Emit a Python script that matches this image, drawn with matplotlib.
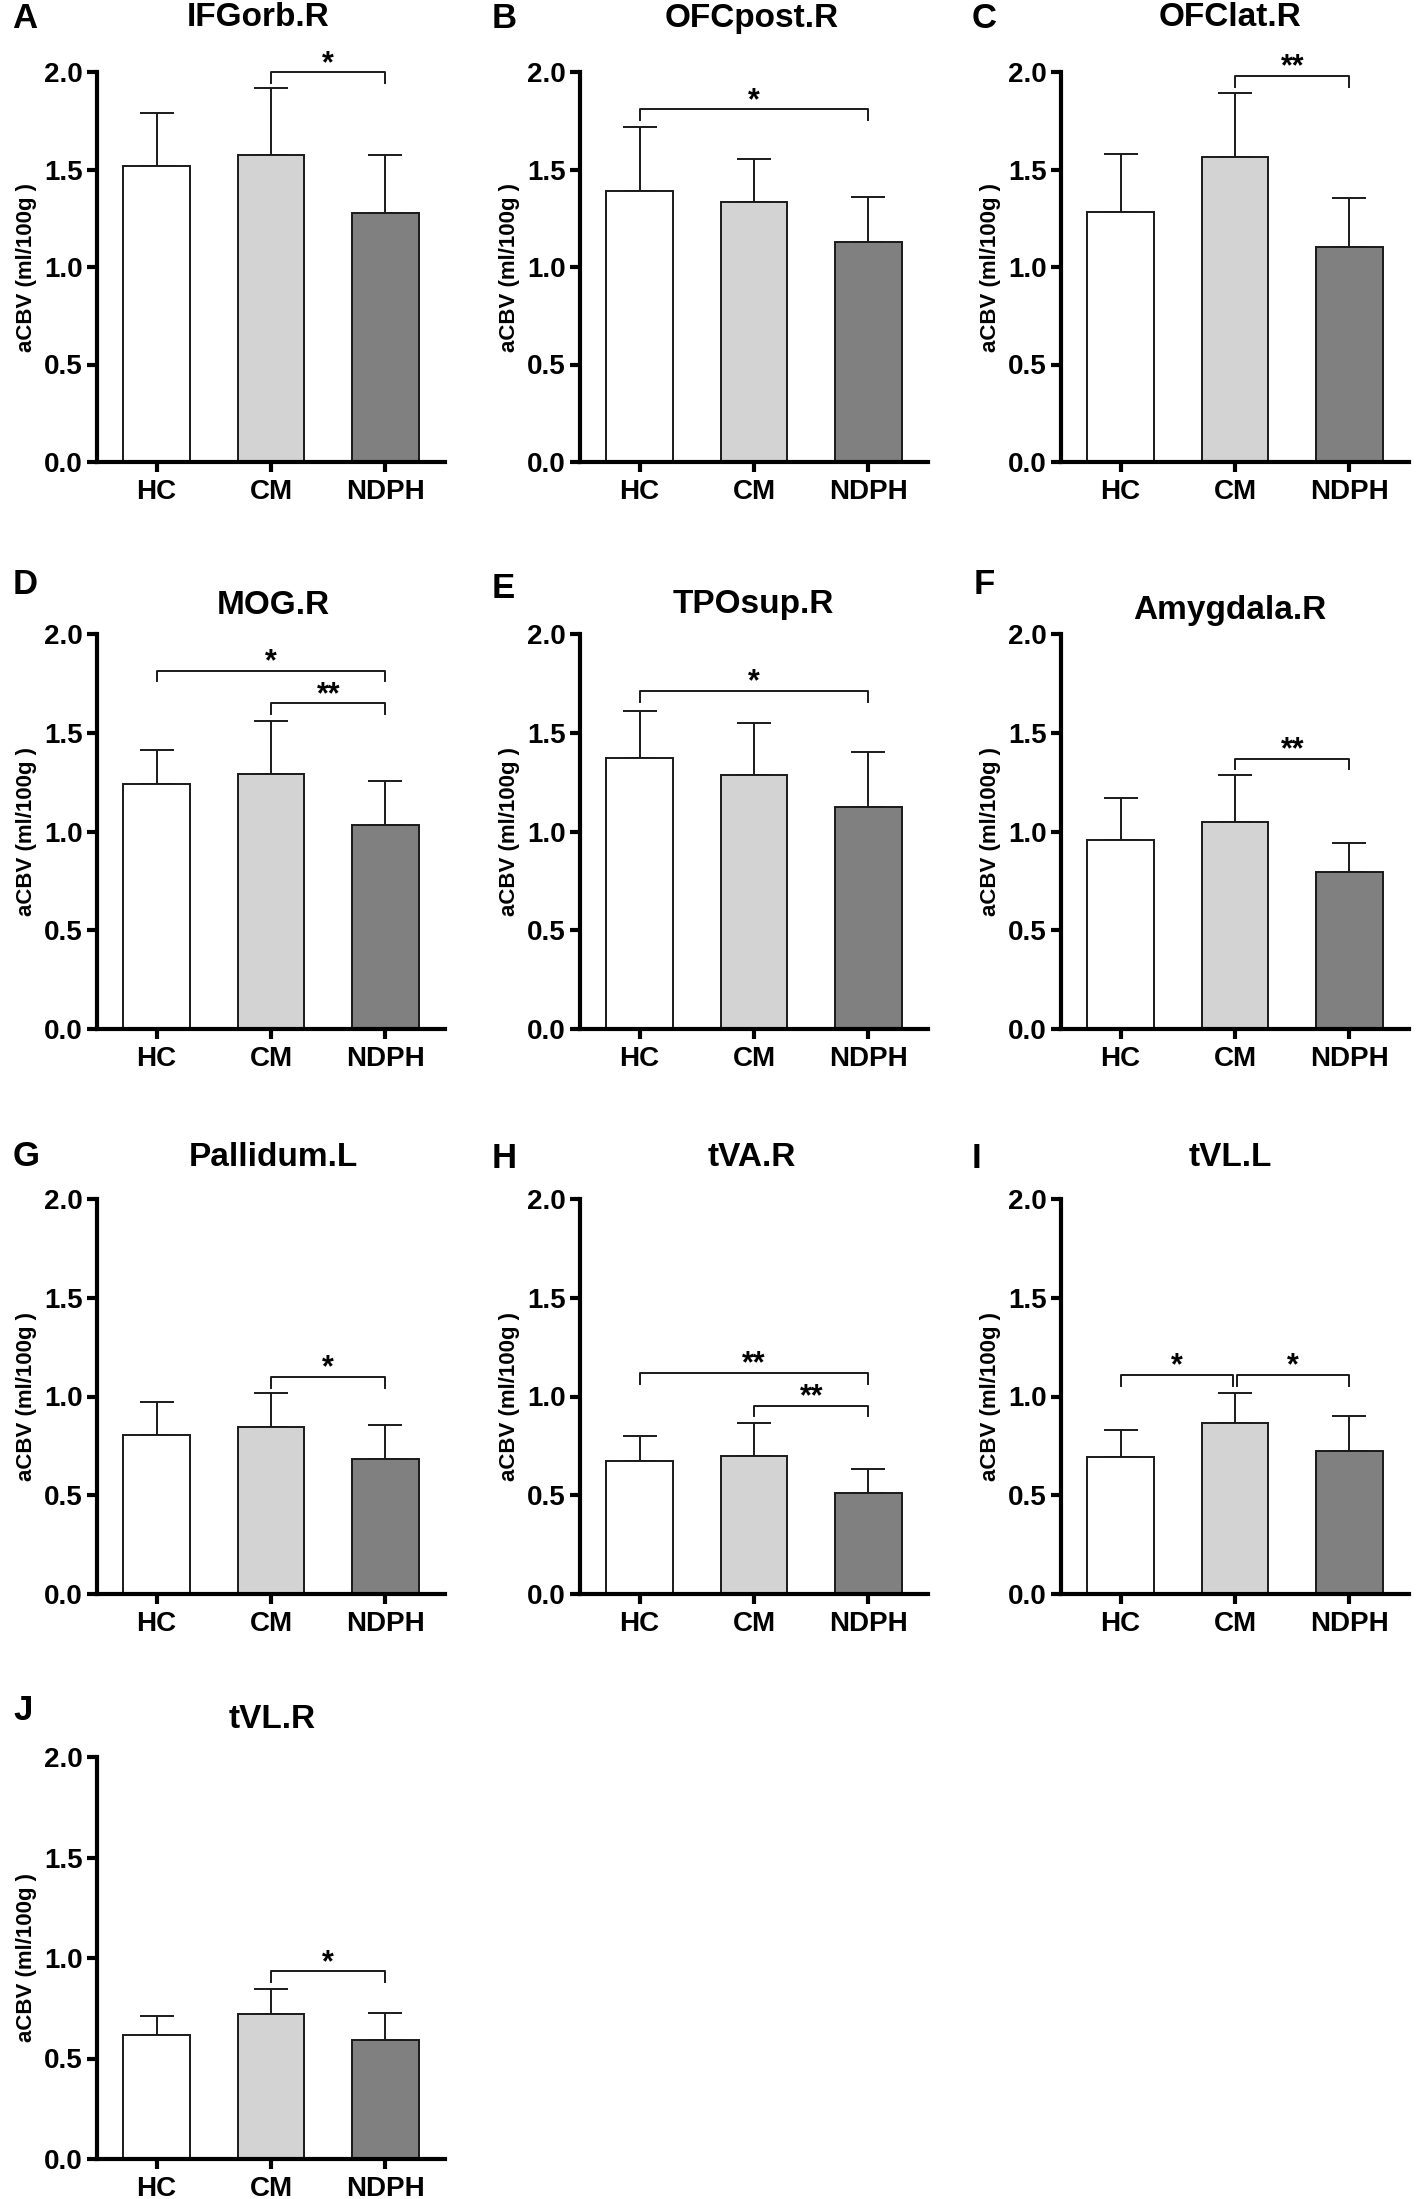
import numpy as np
import matplotlib.pyplot as plt

plt.rcParams['font.family'] = ['Liberation Sans', 'DejaVu Sans']
plt.rcParams['font.weight'] = 'bold'

groups = ['HC', 'CM', 'NDPH']
letters = ['A', 'B', 'C', 'D', 'E', 'F', 'G', 'H', 'I', 'J']
regions = ['IFGorb.R', 'OFCpost.R', 'OFClat.R', 'MOG.R', 'TPOsup.R',
           'Amygdala.R', 'Pallidum.L', 'tVA.R', 'tVL.L', 'tVL.R']

# mean values per group (aCBV, ml/100g)
hc_mean = [1.52, 1.39, 1.28, 1.24, 1.37, 0.955, 0.805, 0.673, 0.696, 0.615]
cm_mean = [1.576, 1.331, 1.566, 1.293, 1.286, 1.05, 0.848, 0.698, 0.865, 0.721]
ndph_mean = [1.279, 1.127, 1.104, 1.034, 1.122, 0.793, 0.686, 0.512, 0.726, 0.592]

# upper error bars (SD)
hc_sd = [0.27, 0.33, 0.30, 0.175, 0.24, 0.215, 0.165, 0.127, 0.132, 0.095]
cm_sd = [0.34, 0.225, 0.325, 0.267, 0.262, 0.238, 0.168, 0.168, 0.153, 0.125]
ndph_sd = [0.295, 0.234, 0.251, 0.224, 0.279, 0.149, 0.171, 0.12, 0.176, 0.134]

# significance brackets: (group i, group j, bracket height, label)
sig = [
    [(1, 2, 2.00, '*')],
    [(0, 2, 1.81, '*')],
    [(1, 2, 1.98, '**')],
    [(0, 2, 1.815, '*'), (1, 2, 1.65, '**')],
    [(0, 2, 1.713, '*')],
    [(1, 2, 1.369, '**')],
    [(1, 2, 1.10, '*')],
    [(0, 2, 1.12, '**'), (1, 2, 0.954, '**')],
    [(0, 0.985, 1.11, '*'), (1.015, 2, 1.11, '*')],
    [(1, 2, 0.934, '*')],
]

bar_colors = ['white', '#d3d3d3', '#808080']
edge = '#1a1a1a'

W, H = 1416, 2199
fig = plt.figure(figsize=(W / 100, H / 100), dpi=100)

col_left = [97, 580, 1061]
ax_w = 348
rows = [(462, 72), (1029, 634), (1594, 1199), (2159, 1757)]
letter_pos = [(12, 18), (492, 18), (972, 18), (13, 585), (492, 588), (974, 585),
              (13, 1157), (492, 1158), (972, 1158), (13, 1710)]
title_pos = [(258, 18), (752, 18), (1230, 18), (273, 605), (753, 605), (1230, 610),
             (273, 1158), (752, 1158), (1230, 1157), (272, 1720)]

x = np.arange(3)
for k in range(10):
    r, c = divmod(k, 3)
    y0, top = rows[r]
    ax = fig.add_axes([col_left[c] / W, 1 - y0 / H, ax_w / W, (y0 - top) / H])

    means = [hc_mean[k], cm_mean[k], ndph_mean[k]]
    sds = [hc_sd[k], cm_sd[k], ndph_sd[k]]
    ax.errorbar(x, means, yerr=[np.zeros(3), sds], fmt='none', ecolor=edge,
                elinewidth=1.4, capsize=12, capthick=1.4, zorder=1)
    ax.bar(x, means, width=0.58, color=bar_colors, edgecolor=edge,
           linewidth=1.4, zorder=2)

    for i, j, yb, lab in sig[k]:
        d = 0.055
        ax.plot([i, i, j, j], [yb - d, yb, yb, yb - d], color=edge, lw=1.4,
                clip_on=False, zorder=3)
        ax.text((i + j) / 2, yb - 0.035, lab, ha='center', va='bottom',
                fontsize=22, clip_on=False)

    ax.set_xlim(-0.52, 2.52)
    ax.set_ylim(0, 2.0)
    ax.set_yticks([0, 0.5, 1.0, 1.5, 2.0])
    ax.set_yticklabels(['0.0', '0.5', '1.0', '1.5', '2.0'])
    ax.set_xticks(x)
    ax.set_xticklabels(groups)
    ax.tick_params(axis='both', width=3, length=7, direction='out',
                   labelsize=20, pad=3)
    ax.tick_params(axis='x', labelsize=20, pad=5)
    for s in ['top', 'right']:
        ax.spines[s].set_visible(False)
    for s in ['left', 'bottom']:
        ax.spines[s].set_linewidth(3)
    ax.set_ylabel('aCBV (ml/100g )', fontsize=16, fontweight='bold', labelpad=5)

    lx, ly = letter_pos[k]
    fig.text(lx / W, 1 - ly / H, letters[k], fontsize=25, fontweight='bold',
             ha='left', va='center')
    tx, ty = title_pos[k]
    fig.text(tx / W, 1 - ty / H, regions[k], fontsize=24, fontweight='bold',
             ha='center', va='center')

fig.savefig('out.png', dpi=100)
